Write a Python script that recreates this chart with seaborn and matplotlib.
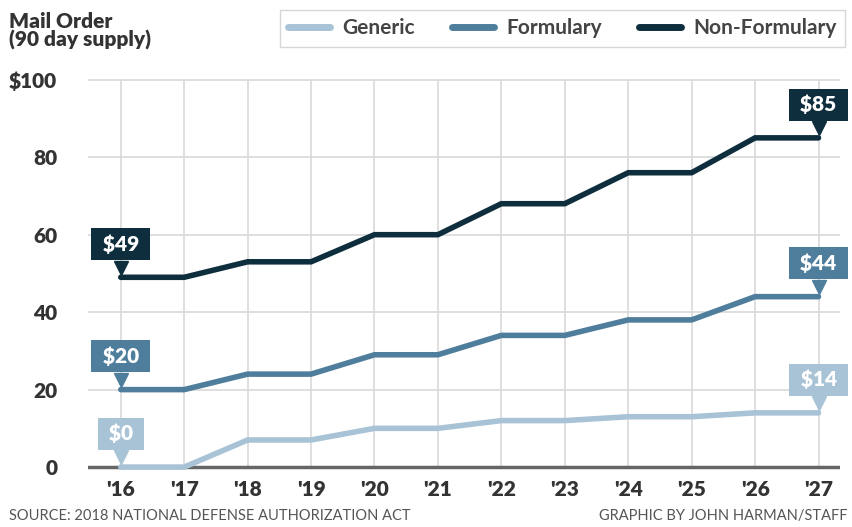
import numpy as np
import pandas as pd
import seaborn as sns
import matplotlib.pyplot as plt
from matplotlib import transforms

years = list(range(2016, 2028))
year_labels = ["'16", "'17", "'18", "'19", "'20", "'21", "'22", "'23", "'24", "'25", "'26", "'27"]
generic = [0, 0, 7, 7, 10, 10, 12, 12, 13, 13, 14, 14]
formulary = [20, 20, 24, 24, 29, 29, 34, 34, 38, 38, 44, 44]
non_formulary = [49, 49, 53, 53, 60, 60, 68, 68, 76, 76, 85, 85]
series_names = ['Generic', 'Formulary', 'Non-Formulary']
y_ticks = [0, 20, 40, 60, 80, 100]
y_tick_labels = ['0', '20', '40', '60', '80', '$100']

colors = {'Generic': '#a8c3d5', 'Formulary': '#4f7d9c', 'Non-Formulary': '#0e2e3d'}

df = pd.DataFrame({
    'idx': list(range(len(years))) * 3,
    'value': generic + formulary + non_formulary,
    'series': np.repeat(series_names, len(years)),
})

sns.set_style('white')
plt.rcParams['font.family'] = ['Lato', 'DejaVu Sans']

fig = plt.figure(figsize=(8.52, 5.27), dpi=100)
ax = fig.add_axes([0.103, 0.099, 0.883, 0.757])

# grid
for v in y_ticks[1:]:
    ax.axhline(v, color='#d9d9d9', lw=1.2, zorder=0)
ax.vlines(range(len(years)), 0, 100, color='#d9d9d9', lw=1.2, zorder=0)
ax.axhline(0, color='#666666', lw=2.5, zorder=1)

sns.lineplot(data=df, x='idx', y='value', hue='series', hue_order=series_names,
             palette=colors, lw=4, ax=ax, zorder=3, solid_joinstyle='miter')

ax.set_xlim(-0.52, 11.34)
ax.set_ylim(-2, 101)
ax.set_xticks(range(len(years)))
ax.set_xticklabels(year_labels, fontsize=15, fontweight='heavy', color='#333333')
ax.set_yticks(y_ticks)
ax.set_yticklabels(y_tick_labels, fontsize=15, fontweight='heavy', color='#333333')
ax.tick_params(axis='x', length=0, pad=4)
ax.tick_params(axis='y', length=0, pad=22)
ax.set_xlabel('')
ax.set_ylabel('')
for s in ax.spines.values():
    s.set_visible(False)

# callout labels
for name, vals in zip(series_names, [generic, formulary, non_formulary]):
    for i in [0, len(vals) - 1]:
        tip = transforms.offset_copy(ax.transData, fig=fig, y=7, units='points')
        ax.plot(i, vals[i], marker='v', ms=10, color=colors[name],
                transform=tip, zorder=5, clip_on=False)
        ax.annotate(' $%d ' % vals[i], xy=(i, vals[i]), xytext=(0, 24),
                    textcoords='offset points', ha='center', va='center',
                    fontsize=15, fontweight='heavy', color='white', zorder=6,
                    bbox=dict(boxstyle='square,pad=0.3', fc=colors[name], ec='none'),
                    annotation_clip=False)

leg = ax.legend(ncol=3, loc='upper right', bbox_to_anchor=(1.007, 1.165),
                frameon=True, fancybox=False, edgecolor='#cccccc',
                prop={'size': 15, 'weight': 'bold'},
                handlelength=2.0, columnspacing=1.8, handletextpad=0.6,
                borderpad=0.4, borderaxespad=0)
for t in leg.get_texts():
    t.set_color('#444444')
for h in leg.get_lines():
    h.set_linewidth(5)

fig.text(0.01, 0.978, 'Mail Order\n(90 day supply)', fontsize=15, fontweight='heavy',
         color='#333333', va='top', ha='left', linespacing=0.95)
fig.text(0.01, 0.008, 'SOURCE: 2018 NATIONAL DEFENSE AUTHORIZATION ACT',
         fontsize=10.5, color='#555555', ha='left', va='bottom')
fig.text(0.995, 0.008, 'GRAPHIC BY JOHN HARMAN/STAFF',
         fontsize=10.5, color='#555555', ha='right', va='bottom')

fig.savefig('out.png', dpi=100)
